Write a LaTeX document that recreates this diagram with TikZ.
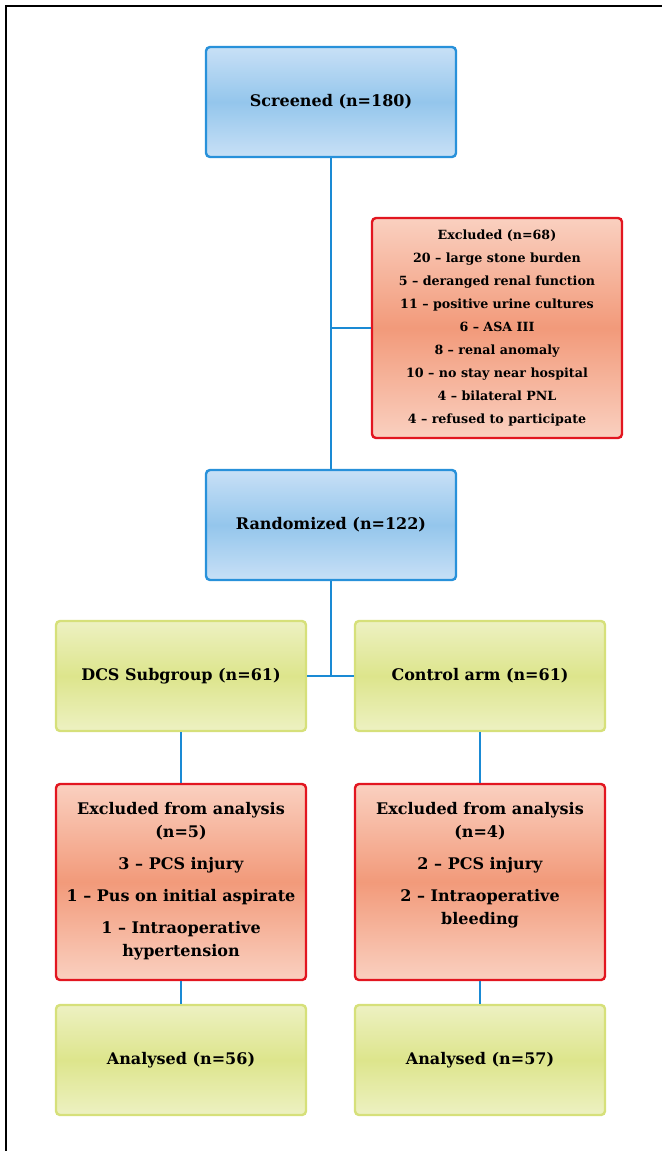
\documentclass[tikz,border=0pt]{standalone}
\usepackage{fontspec}
\setmainfont{DejaVu Serif}

\definecolor{bluedge}{RGB}{40,145,218}
\definecolor{bluelight}{RGB}{200,224,246}
\definecolor{bluemid}{RGB}{148,198,236}
\definecolor{rededge}{RGB}{226,22,32}
\definecolor{redlight}{RGB}{250,208,192}
\definecolor{redmid}{RGB}{242,154,122}
\definecolor{greenedge}{RGB}{214,224,122}
\definecolor{greenlight}{RGB}{237,241,194}
\definecolor{greenmid}{RGB}{221,229,140}
\definecolor{linkblue}{RGB}{26,138,212}

\tikzset{
  box/.style={rectangle, rounded corners=3pt, line width=1.8pt,
    minimum width=187.5pt, minimum height=82.5pt, align=center,
    font=\fontsize{12}{17}\selectfont\bfseries},
  bluebox/.style={box, draw=bluedge, top color=bluelight, bottom color=bluelight, middle color=bluemid},
  redbox/.style={box, draw=rededge, top color=redlight, bottom color=redlight, middle color=redmid},
  greenbox/.style={box, draw=greenedge, top color=greenlight, bottom color=greenlight, middle color=greenmid},
  link/.style={draw=linkblue, line width=1.5pt}
}

\begin{document}
\begin{tikzpicture}[x=0.75pt,y=-0.75pt]
  \useasboundingbox (0,0) rectangle (662,1151);
  % frame of the figure
  \draw[line width=1.5pt] (6,1151) -- (6,6) -- (662,6);

  % main column
  \node[bluebox] (screen) at (331,102) {Screened (n=180)};
  \node[redbox, minimum height=165pt, font=\fontsize{9.5}{17.3}\selectfont\bfseries] (excl) at (497,328)
    {Excluded (n=68)\\
     20 – large stone burden\\
     5 – deranged renal function\\
     11 – positive urine cultures\\
     6 – ASA III\\
     8 – renal anomaly\\
     10 – no stay near hospital\\
     4 – bilateral PNL\\
     4 – refused to participate};
  \node[bluebox] (random) at (331,525) {Randomized (n=122)};

  % the two arms
  \node[greenbox] (dcs) at (181,676) {DCS Subgroup (n=61)};
  \node[greenbox] (ctrl) at (480,676) {Control arm (n=61)};

  \node[redbox, minimum height=147pt] (exclL) at (181,882) {};
  \node[box, draw=none, anchor=north, inner sep=0pt] (exclLtext) at ([yshift=-14pt]exclL.north)
    {Excluded from analysis\\(n=5)\\[7pt]
     3 – PCS injury\\[7pt]
     1 – Pus on initial aspirate\\[7pt]
     1 – Intraoperative\\hypertension};
  \node[redbox, minimum height=147pt] (exclR) at (480,882) {};
  \node[box, draw=none, anchor=north, inner sep=0pt] (exclRtext) at ([yshift=-14pt]exclR.north)
    {Excluded from analysis\\(n=4)\\[7pt]
     2 – PCS injury\\[7pt]
     2 – Intraoperative\\bleeding};

  \node[greenbox] (analL) at (181,1060) {Analysed (n=56)};
  \node[greenbox] (analR) at (480,1060) {Analysed (n=57)};

  % connectors
  \draw[link] (screen.south) -- (random.north);
  \coordinate (exbranch) at (screen.south |- excl.west);
  \draw[link] (exbranch) -- (excl.west);
  \coordinate (armjoin) at (random.south |- dcs.east);
  \draw[link] (random.south) -- (armjoin);
  \draw[link] (dcs.east) -- (ctrl.west);
  \draw[link] (dcs.south) -- (exclL.north);
  \draw[link] (ctrl.south) -- (exclR.north);
  \draw[link] (exclL.south) -- (analL.north);
  \draw[link] (exclR.south) -- (analR.north);
\end{tikzpicture}
\end{document}
